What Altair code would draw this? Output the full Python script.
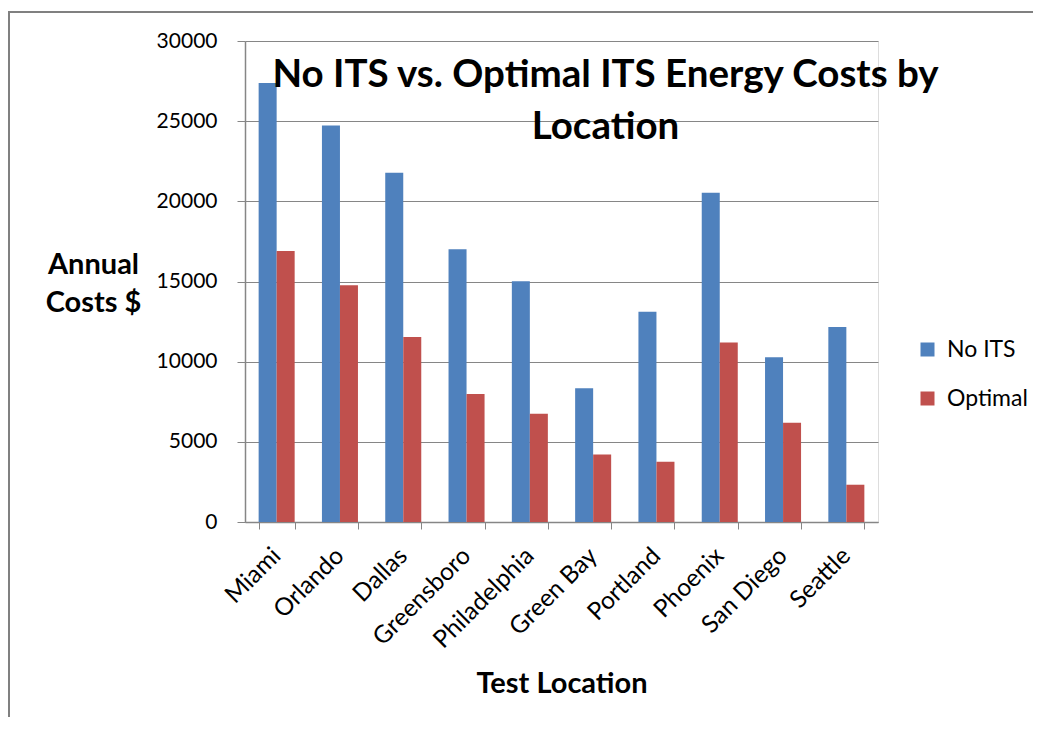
import altair as alt
import pandas as pd

locations = ["Miami", "Orlando", "Dallas", "Greensboro", "Philadelphia",
             "Green Bay", "Portland", "Phoenix", "San Diego", "Seattle"]
no_its = [27380, 24730, 21780, 17010, 15020, 8340, 13110, 20535, 10270, 12160]
optimal = [16910, 14770, 11535, 7990, 6745, 4213, 3757, 11200, 6185, 2325]
series = ["No ITS", "Optimal"]
colors = ["#4F81BD", "#C0504D"]
y_ticks = [0, 5000, 10000, 15000, 20000, 25000, 30000]

rows = []
for i, loc in enumerate(locations):
    rows.append({"Location": loc, "Series": series[0], "Cost": no_its[i]})
    rows.append({"Location": loc, "Series": series[1], "Cost": optimal[i]})
df = pd.DataFrame(rows)

FONT = "Lato"
GRAY = "#868686"

bars = alt.Chart(df).mark_bar().encode(
    x=alt.X("Location:N", sort=locations,
            scale=alt.Scale(paddingInner=0.431, paddingOuter=0.2155),
            axis=alt.Axis(title="Test Location", labelAngle=-45, labelAlign="right",
                          labelBaseline="middle", labelFontSize=24.5, labelFont=FONT,
                          labelColor="#000000", labelPadding=23,
                          titleFont=FONT, titleFontSize=29, titleFontWeight="bold",
                          titleColor="#000000", titlePadding=17,
                          tickBand="extent", tickSize=7, tickColor=GRAY,
                          domainColor=GRAY, domainWidth=1.5, grid=False)),
    xOffset=alt.XOffset("Series:N", sort=series, scale=alt.Scale(paddingInner=0, paddingOuter=0)),
    y=alt.Y("Cost:Q", scale=alt.Scale(domain=[0, 30000], nice=False),
            axis=alt.Axis(values=y_ticks, format="d", title=["Annual", "Costs $"],
                          labelFontSize=21, labelFont=FONT, labelColor="#000000",
                          labelPadding=20, tickSize=8, tickColor=GRAY,
                          domainColor=GRAY, domainWidth=1.5,
                          gridColor=GRAY, gridWidth=1.2,
                          titleAngle=0, titleAlign="center", titleBaseline="middle",
                          titleX=-152, titleY=223, titleLineHeight=38,
                          titleFont=FONT, titleFontSize=29, titleFontWeight="bold",
                          titleColor="#000000")),
    color=alt.Color("Series:N", sort=series,
                    scale=alt.Scale(domain=series, range=colors),
                    legend=alt.Legend(title=None, orient="none", legendX=671, legendY=297,
                                      symbolType="square", symbolSize=196,
                                      symbolStrokeWidth=0, labelFontSize=23,
                                      labelFont=FONT, labelColor="#000000",
                                      rowPadding=25, labelOffset=8)),
)

frame_df = pd.DataFrame({"k": [0]})
left_edge = alt.Chart(frame_df).mark_rule(color="#808080", strokeWidth=2).encode(
    x=alt.value(-236), y=alt.value(-30), y2=alt.value(700))
top_edge = alt.Chart(frame_df).mark_rule(color="#808080", strokeWidth=2).encode(
    x=alt.value(-237), x2=alt.value(800), y=alt.value(-29))

chart = alt.layer(bars, left_edge, top_edge).properties(
    width=633, height=481,
    title=alt.TitleParams(text=["No ITS vs. Optimal ITS Energy Costs by", "Location"],
                          font=FONT, fontSize=38.5, fontWeight="bold", color="#000000",
                          anchor="middle", frame="group", dx=44, offset=-137,
                          lineHeight=52),
    autosize=alt.AutoSizeParams(type="none"),
    padding={"left": 237, "top": 33, "right": 155, "bottom": 195},
).configure_view(stroke=None).configure(background="white")

chart.save("out.html", embed_options={"renderer": "svg", "actions": False})
